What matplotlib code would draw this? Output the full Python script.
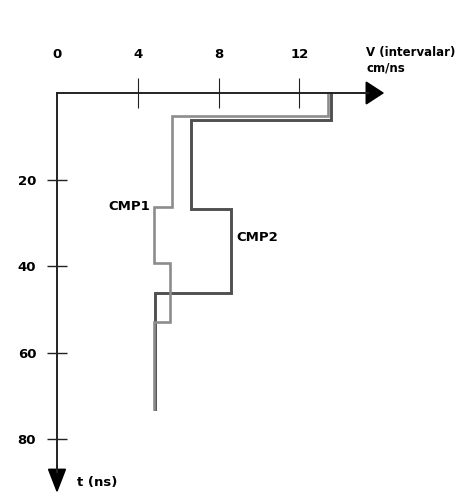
import numpy as np
import matplotlib
matplotlib.use("Agg")
import matplotlib.pyplot as plt

# interval velocity profiles (cm/ns) between time edges (ns)
cmp1_t = [0, 5.3, 26.3, 39.3, 53, 73]
cmp1_v = [13.4, 5.7, 4.8, 5.6, 4.8]
cmp2_t = [0, 6.3, 26.7, 46.3, 73]
cmp2_v = [13.56, 6.63, 8.61, 4.85]

v_ticks = [0, 4, 8, 12]
t_ticks = [20, 40, 60, 80]


def profile(edges, vals):
    edges = np.asarray(edges)
    x = np.repeat(vals, 2)
    y = np.column_stack([edges[:-1], edges[1:]]).ravel()
    return x, y


fig = plt.figure(figsize=(4.7, 5.0), dpi=100)
ax = fig.add_axes([0, 0, 1, 1])
ax.set_xlim(-57 / 20.2, (470 - 57) / 20.2)
ax.set_ylim((500 - 93) / 4.33, -93 / 4.33)

x1, y1 = profile(cmp1_t, cmp1_v)
x2, y2 = profile(cmp2_t, cmp2_v)
ax.plot(x2, y2, color="#505050", lw=2.1, solid_joinstyle="miter", zorder=3)
ax.plot(x1, y1, color="#8c8c8c", lw=1.9, solid_joinstyle="miter", zorder=4)

# axes as spines through the origin
for s in ["bottom", "right"]:
    ax.spines[s].set_visible(False)
ax.spines["top"].set_position(("data", 0))
ax.spines["left"].set_position(("data", 0))
ax.spines["top"].set_bounds(0, 15.4)
ax.spines["left"].set_bounds(0, 87.5)
for s in ["top", "left"]:
    ax.spines[s].set_color("#222222")
    ax.spines[s].set_linewidth(1.4)
    ax.spines[s].set_zorder(5)

ax.xaxis.set_ticks_position("top")
ax.set_xticks(v_ticks)
ax.set_xticklabels([str(v) for v in v_ticks])
ax.set_yticks(t_ticks)
ax.set_yticklabels([str(t) for t in t_ticks])
ax.tick_params(axis="x", direction="inout", length=22, width=0.8, pad=12,
               colors="#222222", labelcolor="black")
ax.tick_params(axis="y", direction="inout", length=14, width=1.0, pad=8,
               colors="#222222", labelcolor="black")
ax.xaxis.get_major_ticks()[0].tick2line.set_visible(False)
for lab in ax.get_xticklabels() + ax.get_yticklabels():
    lab.set_fontweight("bold")
    lab.set_fontsize(9.5)

# arrow heads
ax.annotate("", xy=(16.2, 0), xytext=(15.0, 0),
            arrowprops=dict(arrowstyle="-|>,head_length=1.15,head_width=0.75",
                            mutation_scale=10, lw=1.4, color="black",
                            shrinkA=0, shrinkB=0))
ax.annotate("", xy=(0, 92.4), xytext=(0, 86.0),
            arrowprops=dict(arrowstyle="-|>,head_length=1.5,head_width=0.58",
                            mutation_scale=10, lw=1.4, color="black",
                            shrinkA=0, shrinkB=0))

ax.text(15.3, -9.4, "V (intervalar)", fontsize=8.5, fontweight="bold",
        ha="left", va="center")
ax.text(15.3, -5.7, "cm/ns", fontsize=8.5, fontweight="bold",
        ha="left", va="center")
ax.text(1.0, 90.0, "t (ns)", fontsize=9.5, fontweight="bold",
        ha="left", va="center")
ax.text(4.6, 26.3, "CMP1", fontsize=9.5, fontweight="bold",
        ha="right", va="center")
ax.text(8.86, 33.3, "CMP2", fontsize=9.5, fontweight="bold",
        ha="left", va="center")

fig.savefig("out.png", dpi=100)
